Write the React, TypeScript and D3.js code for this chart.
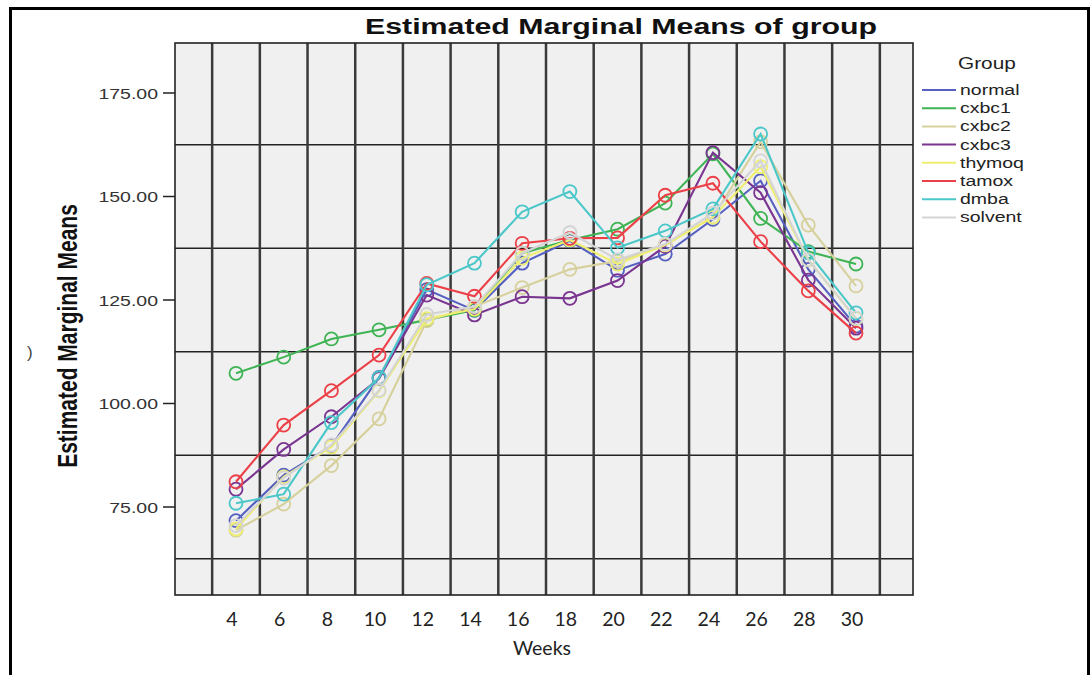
import React from "react";
import * as d3 from "d3";

const weeks = [4, 6, 8, 10, 12, 14, 16, 18, 20, 22, 24, 26, 28, 30];
const yTicks = [75, 100, 125, 150, 175];
const gridY = [62.5, 87.5, 112.5, 137.5, 162.5];
const gridX = [3, 5, 7, 9, 11, 13, 15, 17, 19, 21, 23, 25, 27, 29, 31];

const groups = ["normal", "cxbc1", "cxbc2", "cxbc3", "thymoq", "tamox", "dmba", "solvent"];
const colors = ["#5560c0", "#3fb454", "#d6d19c", "#7a3590", "#eeee70", "#ec4048", "#4cc7c9", "#d4d4d4"];

const normal = [71.7, 82.7, 89.7, 106.3, 127.5, 122.5, 133.9, 139.3, 132.2, 136.1, 144.5, 153.8, 132.4, 118.7];
const cxbc1 = [107.3, 111.2, 115.6, 117.8, 120.2, 122.6, 136.3, 139.5, 142.1, 148.4, 160.3, 144.7, 136.7, 133.7];
const cxbc2 = [69.4, 75.7, 85.0, 96.3, 120.0, 123.4, 128.0, 132.4, 134.4, 138.3, 145.1, 163.2, 143.1, 128.4];
const cxbc3 = [79.3, 88.9, 96.8, 106.0, 126.2, 121.4, 125.8, 125.4, 129.7, 138.0, 160.6, 150.9, 129.8, 118.2];
const thymoq = [69.7, 82.3, 89.5, 103.0, 120.5, 122.8, 135.1, 139.5, 133.7, 138.3, 145.0, 157.2, 134.7, 120.5];
const tamox = [81.1, 94.8, 103.1, 111.7, 129.0, 125.9, 138.7, 139.9, 140.0, 150.3, 153.2, 139.1, 127.2, 117.0];
const dmba = [75.9, 78.1, 95.4, 106.2, 128.7, 133.9, 146.3, 151.2, 137.6, 141.7, 147.0, 165.1, 136.4, 121.9];
const solvent = [70.5, 82.0, 90.0, 103.2, 121.5, 123.4, 136.3, 141.3, 134.7, 138.5, 146.0, 158.6, 134.7, 120.6];

const seriesValues = [normal, cxbc1, cxbc2, cxbc3, thymoq, tamox, dmba, solvent];

const W = 1092;
const H = 675;
const plot = { left: 175, right: 913, top: 43, bottom: 595 };

export default function App() {
  const x = d3.scaleLinear().domain([4, 30]).range([236, 856]);
  const y = d3.scaleLinear().domain([75, 175]).range([507, 93]);
  const line = d3
    .line<number>()
    .x((_, i) => x(weeks[i]))
    .y((v) => y(v));
  const fmt = d3.format(".2f");
  const sx = 1.3;

  return (
    <svg
      width={W}
      height={H}
      style={{ position: "absolute", left: 0, top: 0, background: "#fff" }}
    >
      <rect x={0} y={0} width={W} height={H} fill="#fff" />
      {/* outer frame */}
      <rect x={10.5} y={8.5} width={1078} height={720} fill="none" stroke="#000" strokeWidth={3} />

      {/* title */}
      <text
        x={365}
        y={34}
        textLength={512}
        lengthAdjust="spacingAndGlyphs"
        fontFamily="Liberation Sans, Arial, sans-serif"
        fontWeight="bold"
        fontSize={22}
        fill="#111"
      >
        Estimated Marginal Means of group
      </text>

      {/* plot background */}
      <rect
        x={plot.left}
        y={plot.top}
        width={plot.right - plot.left}
        height={plot.bottom - plot.top}
        fill="#f0f0f0"
      />
      {/* horizontal grid */}
      {gridY.map((v) => (
        <line
          key={"gy" + v}
          x1={plot.left}
          x2={plot.right}
          y1={y(v)}
          y2={y(v)}
          stroke="#222"
          strokeWidth={1.6}
        />
      ))}
      {/* vertical grid */}
      {gridX.map((w) => (
        <line
          key={"gx" + w}
          x1={x(w)}
          x2={x(w)}
          y1={plot.top}
          y2={plot.bottom}
          stroke="#3a3a3a"
          strokeWidth={2.5}
        />
      ))}
      <rect
        x={plot.left}
        y={plot.top}
        width={plot.right - plot.left}
        height={plot.bottom - plot.top}
        fill="none"
        stroke="#222"
        strokeWidth={1.6}
      />

      {/* y ticks */}
      {yTicks.map((v) => (
        <g key={"yt" + v}>
          <line x1={163} x2={plot.left} y1={y(v)} y2={y(v)} stroke="#222" strokeWidth={1.5} />
          <text
            transform={`translate(158,${y(v) + 5.5}) scale(${sx},1)`}
            textAnchor="end"
            fontFamily="Liberation Sans, Arial, sans-serif"
            fontSize={15}
            fill="#333"
          >
            {fmt(v)}
          </text>
        </g>
      ))}

      {/* y axis title */}
      <text
        transform={`translate(77,336) scale(${sx},1) rotate(-90)`}
        textAnchor="middle"
        fontFamily="Liberation Sans, Arial, sans-serif"
        fontWeight="bold"
        fontSize={21}
        fill="#111"
      >
        Estimated Marginal Means
      </text>
      <text x={27} y={358} fontFamily="Liberation Sans, Arial, sans-serif" fontSize={17} fill="#444">
        )
      </text>

      {/* x tick labels */}
      {weeks.map((w) => (
        <text
          key={"xt" + w}
          x={x(w) - 4}
          y={626}
          textAnchor="middle"
          fontFamily="Lato, Open Sans, sans-serif"
          fontSize={19.5}
          fill="#222"
        >
          {w}
        </text>
      ))}
      <text
        x={542}
        y={655}
        textAnchor="middle"
        fontFamily="Lato, Open Sans, sans-serif"
        fontSize={19.5}
        fill="#222"
      >
        Weeks
      </text>

      {/* series */}
      {seriesValues.map((vals, si) => (
        <g key={"s" + si}>
          <path d={line(vals) || ""} fill="none" stroke={colors[si]} strokeWidth={2.1} />
          {vals.map((v, i) => (
            <circle
              key={i}
              cx={x(weeks[i])}
              cy={y(v)}
              r={6.5}
              fill="none"
              stroke={colors[si]}
              strokeWidth={1.8}
            />
          ))}
        </g>
      ))}

      {/* legend */}
      <text
        transform={`translate(958,69) scale(${sx},1)`}
        fontFamily="Liberation Sans, Arial, sans-serif"
        fontSize={16}
        fill="#222"
      >
        Group
      </text>
      {groups.map((g, i) => {
        const ry = 90 + i * 18.2;
        return (
          <g key={"lg" + g}>
            <line x1={922} x2={956} y1={ry} y2={ry} stroke={colors[i]} strokeWidth={2} />
            <text
              transform={`translate(960,${ry + 5}) scale(${sx},1)`}
              fontFamily="Liberation Sans, Arial, sans-serif"
              fontSize={15}
              fill="#222"
            >
              {g}
            </text>
          </g>
        );
      })}
    </svg>
  );
}
